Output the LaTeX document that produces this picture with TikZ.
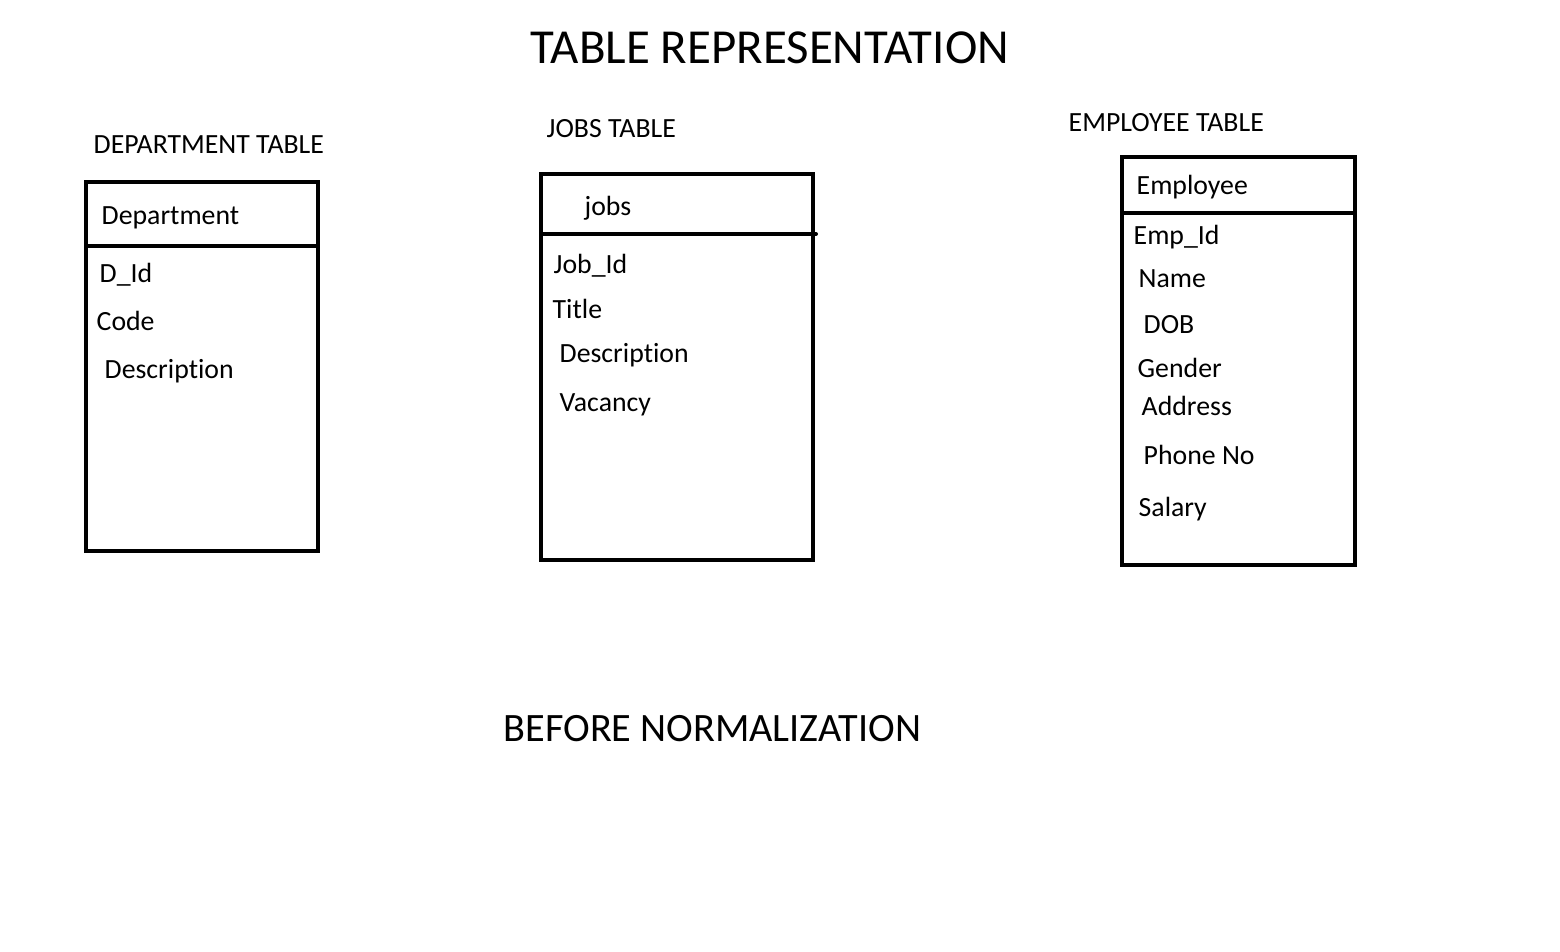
\documentclass[tikz,border=0pt]{standalone}
\usepackage{fontspec}
\setmainfont{Carlito}[Ligatures=NoCommon]
\usepackage{tikz}

\begin{document}
\begin{tikzpicture}[x=0.01cm,y=-0.01cm,
                    box/.style={draw,line width=4*0.2845pt},
                    field/.style={anchor=mid west,inner sep=0pt,font=\fontsize{7.9}{9}\selectfont},
                    caption/.style={anchor=mid west,inner sep=0pt,font=\fontsize{7.9}{9}\selectfont},
                    heading/.style={anchor=mid west,inner sep=0pt}]

  \useasboundingbox (0,0) rectangle (1560,952);

  % headings
  \node[heading,font=\fontsize{13.9}{16}\selectfont] (title) at (530,55) {TABLE REPRESENTATION};
  \node[heading,font=\fontsize{11.45}{14}\selectfont] (before) at (503,733) {BEFORE NORMALIZATION};

  % department table
  \node[caption] (deptcap) at (93,145) {DEPARTMENT TABLE};
  \draw[box] (86,182) rectangle (318,551);
  \draw[box] (86,246) -- (318,246);
  \node[field] (dept) at (101,216) {Department};
  \node[field] (did) at (99,274) {D\_Id};
  \node[field] (dcode) at (96,322) {Code};
  \node[field] (ddesc) at (104,370) {Description};

  % jobs table
  \node[caption] (jobscap) at (546,129) {JOBS TABLE};
  \draw[box] (541,174) rectangle (813,560);
  \draw[box,line cap=round] (541,234) -- (816,234);
  \node[field] (jobs) at (584,207) {jobs};
  \node[field] (jid) at (553,265) {Job\_Id};
  \node[field] (jtitle) at (552,310) {Title};
  \node[field] (jdesc) at (559,354) {Description};
  \node[field] (jvac) at (559,403) {Vacancy};

  % employee table
  \node[caption] (empcap) at (1068,123) {EMPLOYEE TABLE};
  \draw[box] (1122,157) rectangle (1355,565);
  \draw[box] (1122,213) -- (1355,213);
  \node[field] (emp) at (1136,186) {Employee};
  \node[field] (eid) at (1133,236) {Emp\_Id};
  \node[field] (ename) at (1138,279) {Name};
  \node[field] (edob) at (1143,325) {DOB};
  \node[field] (egen) at (1137,369) {Gender};
  \node[field] (eaddr) at (1141,407) {Address};
  \node[field] (ephone) at (1143,456) {Phone No};
  \node[field] (esal) at (1138,508) {Salary};
\end{tikzpicture}
\end{document}
